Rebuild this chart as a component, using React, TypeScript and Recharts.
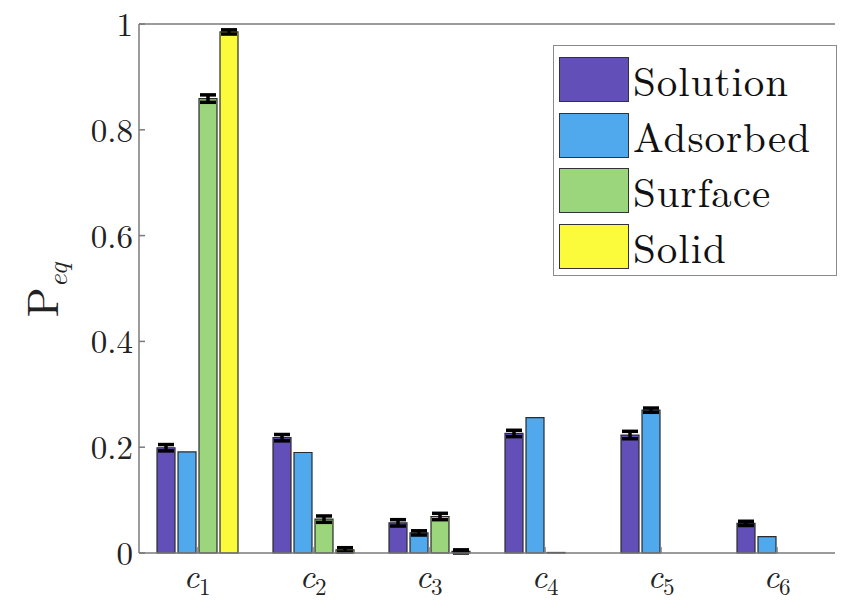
import { BarChart, Bar, XAxis, YAxis, ErrorBar } from "recharts";

const categories = ["1", "2", "3", "4", "5", "6"];
const solution = [0.199, 0.218, 0.057, 0.226, 0.223, 0.056];
const adsorbed = [0.191, 0.19, 0.038, 0.256, 0.27, 0.031];
const surface = [0.859, 0.064, 0.069, 0.001, 0, 0];
const solid = [0.985, 0.006, 0.003, 0, 0, 0];
const solutionErr = [0.006, 0.006, 0.006, 0.006, 0.007, 0.004];
const adsorbedErr = [null, null, 0.004, null, 0.004, null];
const surfaceErr = [0.007, 0.006, 0.006, null, null, null];
const solidErr = [0.004, 0.004, 0.003, null, null, null];
const yTicks = [0, 0.2, 0.4, 0.6, 0.8, 1];
const yTickLabels = ["0", "0.2", "0.4", "0.6", "0.8", "1"];

const series = [
    { key: "solution", err: "solutionErr", name: "Solution", color: "#634fb8" },
    { key: "adsorbed", err: "adsorbedErr", name: "Adsorbed", color: "#4fa9ec" },
    { key: "surface", err: "surfaceErr", name: "Surface", color: "#9bd57c" },
    { key: "solid", err: "solidErr", name: "Solid", color: "#fbfb3b" },
];

const data = categories.map((c, i) => ({
    cat: c,
    solution: solution[i],
    adsorbed: adsorbed[i],
    surface: surface[i],
    solid: solid[i],
    solutionErr: solutionErr[i],
    adsorbedErr: adsorbedErr[i],
    surfaceErr: surfaceErr[i],
    solidErr: solidErr[i],
}));

const serif = "'Latin Modern Roman', 'DejaVu Serif', serif";
const axisColor = "#7a7a7a";

function XTick({ x, y, payload }: any) {
    return (
        <text x={x} y={y + 39} textAnchor="middle" fontFamily={serif} fill="#222">
            <tspan fontStyle="italic" fontSize={34}>c</tspan>
            <tspan fontSize={23} dy={7}>{payload.value}</tspan>
        </text>
    );
}

function YTick({ x, y, payload }: any) {
    const idx = yTicks.indexOf(payload.value);
    return (
        <text x={x - 10} y={y + 12} textAnchor="end" fontFamily={serif} fontSize={33} fill="#222">
            {yTickLabels[idx]}
        </text>
    );
}

function LegendBox() {
    return (
        <div style={{
            position: "absolute", left: 553, top: 45, width: 284, height: 231, boxSizing: "border-box",
            border: "1.5px solid #8a8a8a", background: "#fff", padding: "6px 5px",
        }}>
            {series.map((s) => (
                <div key={s.key} style={{ display: "flex", alignItems: "center", height: 55.5 }}>
                    <div style={{ width: 70, height: 45, background: s.color, border: "1.5px solid #333", boxSizing: "border-box", flexShrink: 0 }} />
                    <span style={{ fontFamily: serif, fontSize: 41, letterSpacing: 1, color: "#111", marginLeft: 4, whiteSpace: "nowrap", lineHeight: 1 }}>{s.name}</span>
                </div>
            ))}
        </div>
    );
}

export default function App() {
    return (
        <div style={{ position: "relative", width: 843, height: 602, background: "#fff", overflow: "hidden" }}>
            <style>{"body{margin:0}"}</style>
            <BarChart
                width={843} height={602} data={data}
                margin={{ top: 23, right: 8, left: 0, bottom: 0 }}
                barSize={18} barGap={3}
            >
                <XAxis
                    dataKey="cat" height={49} tick={<XTick />}
                    axisLine={{ stroke: axisColor, strokeWidth: 1.5 }}
                    tickLine={{ stroke: axisColor, strokeWidth: 1.5 }} tickSize={-6}
                />
                <XAxis
                    dataKey="cat" xAxisId="top" orientation="top" height={1} tick={false}
                    axisLine={{ stroke: axisColor, strokeWidth: 1.5 }}
                    tickLine={{ stroke: axisColor, strokeWidth: 1.5 }} tickSize={-6}
                />
                <YAxis
                    width={139} domain={[0, 1]} ticks={yTicks} tick={<YTick />}
                    axisLine={{ stroke: axisColor, strokeWidth: 1.5 }}
                    tickLine={{ stroke: axisColor, strokeWidth: 1.5 }} tickSize={-6}
                />
                {series.map((s) => (
                    <Bar
                        key={s.key} dataKey={s.key} name={s.name} fill={s.color}
                        stroke="#2b2b2b" strokeWidth={1.2} isAnimationActive={false}
                    >
                        <ErrorBar dataKey={s.err} width={8} stroke="#000" strokeWidth={3.5} direction="y" />
                    </Bar>
                ))}
            </BarChart>
            <LegendBox />
            <svg style={{ position: "absolute", left: 0, top: 0 }} width={100} height={602}>
                <text
                    transform="translate(58 290) rotate(-90)" textAnchor="middle"
                    fontFamily={serif} fill="#222"
                >
                    <tspan fontSize={44}>P</tspan>
                    <tspan fontSize={28} fontStyle="italic" dy={9}>eq</tspan>
                </text>
            </svg>
        </div>
    );
}
